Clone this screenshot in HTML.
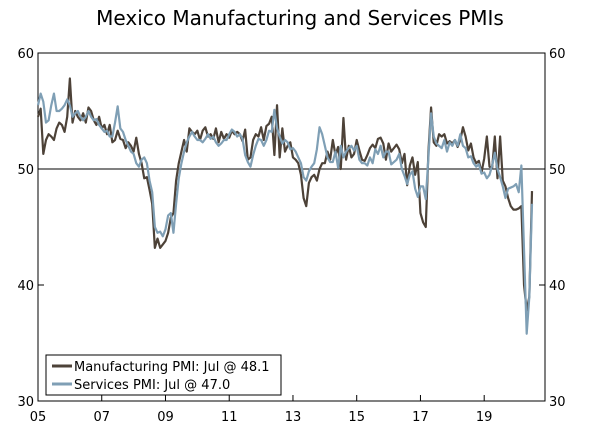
<!DOCTYPE html>
<html><head><meta charset="utf-8"><style>
body{margin:0;background:#fff;font-family:"DejaVu Sans","Liberation Sans",sans-serif}
svg text{font-family:"DejaVu Sans","Liberation Sans",sans-serif}
</style></head><body>
<svg id="c" width="600" height="430" xmlns="http://www.w3.org/2000/svg">
<text x="300" y="25" font-size="20" text-anchor="middle" fill="#000">Mexico Manufacturing and Services PMIs</text>
<g id="axes"></g><g id="lines"></g>
<g>
<rect x="46" y="355" width="235" height="40" fill="#fff" stroke="#000" stroke-width="1"/>
<line x1="52" y1="366" x2="72" y2="366" stroke="#4d4238" stroke-width="3"/>
<text x="74" y="371" font-size="13">Manufacturing PMI: Jul @ 48.1</text>
<line x1="52" y1="384" x2="72" y2="384" stroke="#7f9fb5" stroke-width="3"/>
<text x="74" y="389" font-size="13">Services PMI: Jul @ 47.0</text>
</g>
</svg>
<script>
const yTicks=[30,40,50,60];
const xTickLabels=["05","07","09","11","13","15","17","19"];
const xTickYears=[2005,2007,2009,2011,2013,2015,2017,2019];
const manufacturing=[
54.5,55.2,51.3,52.5,53,52.8,52.5,53.5,54,53.8,53.2,54.5,
57.8,54,55,54.5,54.2,54.8,54,55.3,55,54.2,53.8,54.5,
53.5,53.8,53,53.8,52.3,52.5,53.3,52.6,52.5,51.8,52.3,52,
51.5,52.7,51.3,50.5,49.2,49.3,48.2,47,43.2,44,43.2,43.5,
43.8,44.5,45.8,46.2,49,50.5,51.5,52.5,51.5,53.5,53.2,53,
53.3,52.5,53.3,53.6,52.8,53,52.6,53.5,52.3,53.2,52.6,53,
52.7,53.3,53,53.2,53,52.4,53.4,50.8,51,52.5,53,52.8,
53.6,52.5,53.7,53.9,54.5,51.2,55.5,51,53.5,51.5,52,52.3,
51,50.8,50.5,49.5,47.5,46.8,48.8,49.3,49.5,49,50,50.5,
50.5,51.5,50.8,52.5,51.2,51.9,50,54.4,50.8,52,51,51.3,
52.5,51.6,50.8,50.7,51.2,51.8,52.1,51.8,52.6,52.7,52.2,50.8,
52.2,51.5,51.8,52.1,51.7,50.5,51.3,48.6,50.3,51,49.5,50.6,
46.2,45.4,45,51.5,55.3,52.3,52,53,52.8,53,52.2,52.4,
52.2,52.5,51.9,52.5,53.6,52.8,51.6,52.2,51,50.5,50.7,49.7,
50.9,52.8,50.2,50.1,52.8,49.2,52.8,49,48.5,47.5,46.8,46.5,
46.5,46.6,46.8,40,37.8,39,48.1];
const services=[
55.5,56.5,55.8,54,54.2,55.5,56.5,55,55,55.2,55.5,56,
55.5,54.5,54.8,55,54.5,54.2,54.5,55,54.5,54.2,54.3,53.8,
53.5,53.2,53.3,52.8,52.8,54,55.4,53.5,53.2,52.5,52,51.5,
51.3,50.5,50.2,50.8,51,50.5,49,48,45,44.5,44.6,44.2,
44.8,46,46.2,44.5,47,49.2,50.5,51.5,52.3,52.8,53.2,52.8,
52.5,52.5,52.3,52.6,53,52.6,52.8,52.3,52,52.2,52.5,52.5,
53,53.4,53.2,52.8,53,52.6,51.2,50.6,50.2,51.2,52,52.6,
52.5,52,52.5,53.3,53.2,55.1,53.5,52.8,52.2,52.5,52.3,51.7,
51.8,51.5,51,50.5,49.3,49,49.8,50.2,50.5,51.7,53.6,53,
52,51,50.6,50.6,51.5,50.1,52,51,51.5,51.8,52,51.6,
52,50.8,50.5,50.5,50.3,51,50.5,51.7,51.3,52,51,51.5,
51.5,50.4,50.6,50.8,51.3,50,49.4,48.7,49.5,49.8,48.3,47.6,
48.5,48.5,47.4,51,54.8,52.8,52.2,52,51.8,52.5,51.5,52.3,
52,52.5,52,53,52,51.8,51,51.1,50.5,50.2,50.4,49.6,
49.7,49.2,49.5,50.3,51.4,50,49.3,48.5,47.5,48.3,48.4,48.5,
48.7,48,50.3,43,35.8,39,47.0];
const L=38,R=545,T=53,B=401;
const x=m=>L+m*(494/186);
const y=v=>T+(60-v)*(B-T)/30;
const NS="http://www.w3.org/2000/svg";
const ax=document.getElementById('axes'),ln=document.getElementById('lines');
function mk(tag,at,par){const e=document.createElementNS(NS,tag);for(const k in at)e.setAttribute(k,at[k]);par.appendChild(e);return e;}
let e=mk('rect',{x:L,y:T,width:R-L,height:B-T,fill:'none',stroke:'#000','stroke-width':1},ax);


yTicks.forEach(v=>{
 const ty=y(v);
 mk('line',{x1:L,y1:ty,x2:L+6,y2:ty,stroke:'#000'},ax);
 mk('line',{x1:R-6,y1:ty,x2:R,y2:ty,stroke:'#000'},ax);
 let a=mk('text',{x:L-4,y:ty+5,'font-size':13,'text-anchor':'end'},ax);a.textContent=v;
 
 
 let b=mk('text',{x:R+4,y:ty+5,'font-size':13},ax);b.textContent=v;
 
 
});
e=mk('line',{x1:L,y1:y(50),x2:R,y2:y(50),stroke:'#000','stroke-width':1},ax);


xTickLabels.forEach((lab,i)=>{
 const tx=x((xTickYears[i]-2005)*12);
 mk('line',{x1:tx,y1:B,x2:tx,y2:B-6,stroke:'#000'},ax);
 const t=mk('text',{x:tx,y:B+20,'font-size':13,'text-anchor':'middle'},ax);t.textContent=lab;
 
 
});
function line(d,c,name){
 const p=mk('polyline',{points:d.map((v,i)=>x(i)+','+y(v)).join(' '),fill:'none',stroke:c,'stroke-width':2.2,'stroke-linejoin':'round'},ln);
 
 
}
line(manufacturing,'#4d4238','manufacturing-line');
line(services,'#7f9fb5','services-line');
</script>
</body></html>
